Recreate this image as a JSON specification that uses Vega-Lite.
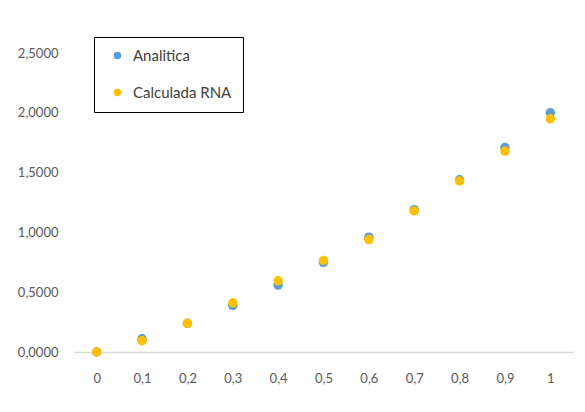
{
  "$schema": "https://vega.github.io/schema/vega-lite/v6.json",
  "autosize": {"type": "none"},
  "padding": {"left": 74, "top": 53, "right": 12, "bottom": 60},
  "width": 499,
  "height": 299,
  "background": "white",
  "config": {"view": {"stroke": null}},
  "data": {"values": [
    {"x": "0", "serie": "Analitica", "y": 0},
    {"x": "0,1", "serie": "Analitica", "y": 0.11},
    {"x": "0,2", "serie": "Analitica", "y": 0.24},
    {"x": "0,3", "serie": "Analitica", "y": 0.39},
    {"x": "0,4", "serie": "Analitica", "y": 0.56},
    {"x": "0,5", "serie": "Analitica", "y": 0.75},
    {"x": "0,6", "serie": "Analitica", "y": 0.96},
    {"x": "0,7", "serie": "Analitica", "y": 1.19},
    {"x": "0,8", "serie": "Analitica", "y": 1.44},
    {"x": "0,9", "serie": "Analitica", "y": 1.71},
    {"x": "1", "serie": "Analitica", "y": 2.0},
    {"x": "0", "serie": "Calculada RNA", "y": 0.0},
    {"x": "0,1", "serie": "Calculada RNA", "y": 0.095},
    {"x": "0,2", "serie": "Calculada RNA", "y": 0.24},
    {"x": "0,3", "serie": "Calculada RNA", "y": 0.41},
    {"x": "0,4", "serie": "Calculada RNA", "y": 0.595},
    {"x": "0,5", "serie": "Calculada RNA", "y": 0.765},
    {"x": "0,6", "serie": "Calculada RNA", "y": 0.94},
    {"x": "0,7", "serie": "Calculada RNA", "y": 1.18},
    {"x": "0,8", "serie": "Calculada RNA", "y": 1.43},
    {"x": "0,9", "serie": "Calculada RNA", "y": 1.68},
    {"x": "1", "serie": "Calculada RNA", "y": 1.95}
  ]},
  "mark": {"type": "point", "filled": true, "opacity": 1, "size": 90},
  "encoding": {
    "x": {
      "field": "x", "type": "ordinal", "sort": null,
      "scale": {"type": "point", "padding": 0.5},
      "axis": {
        "title": null, "labelAngle": 0, "ticks": false, "domainColor": "#d9d9d9", "domainWidth": 1.5,
        "labelColor": "#595959", "labelFont": "Lato", "labelFontSize": 13,
        "labelPadding": 20, "grid": false
      }
    },
    "y": {
      "field": "y", "type": "quantitative",
      "scale": {"domain": [0, 2.5]},
      "axis": {
        "title": null, "values": [0, 0.5, 1, 1.5, 2, 2.5], "domain": false, "ticks": false, "grid": false,
        "labelExpr": "replace(format(datum.value, '.4f'), '.', ',')",
        "labelColor": "#595959", "labelFont": "Lato", "labelFontSize": 13,
        "labelPadding": 16
      }
    },
    "color": {
      "field": "serie", "type": "nominal",
      "scale": {"domain": ["Analitica", "Calculada RNA"], "range": ["#5B9BD5", "#FFC000"]},
      "legend": {
        "title": null, "orient": "none", "legendX": 20, "legendY": -16,
        "strokeColor": "#000000", "fillColor": "white",
        "padding": 11, "symbolOffset": 5, "symbolSize": 55, "symbolType": "circle",
        "labelFont": "Lato", "labelFontSize": 15, "labelColor": "#404040",
        "labelOffset": 8, "rowPadding": 21,
        "encode": {"legend": {"update": {"strokeWidth": {"value": 1.5}}}}
      }
    }
  }
}
